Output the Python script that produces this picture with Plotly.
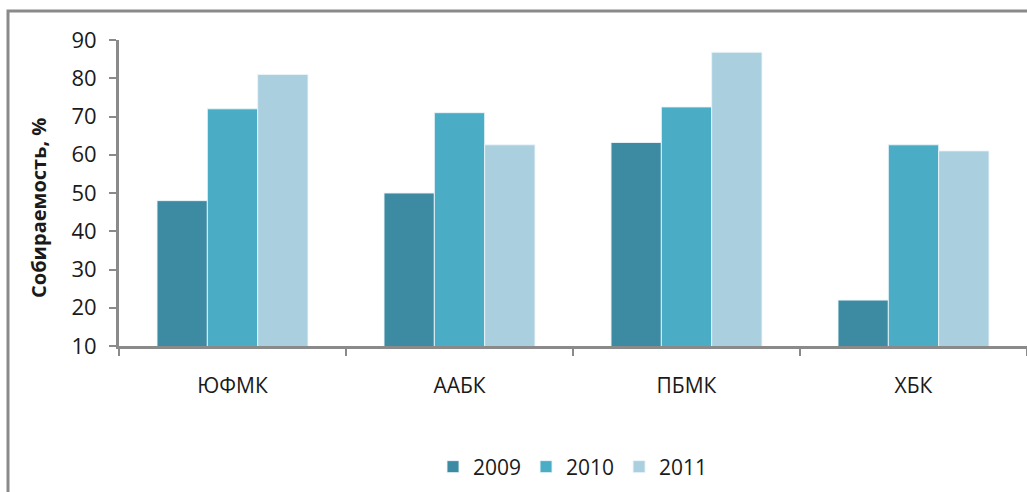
import plotly.graph_objects as go

categories = ["ЮФМК", "ААБК", "ПБМК", "ХБК"]
years = ["2009", "2010", "2011"]
v2009 = [48, 50, 63.2, 22]
v2010 = [72, 71, 72.5, 62.6]
v2011 = [81, 62.6, 86.8, 61]
colors = ["#3C8BA3", "#4BACC6", "#AACFDE"]
y_ticks = [10, 20, 30, 40, 50, 60, 70, 80, 90]

font_main = "Open Sans, Noto Sans, sans-serif"

fig = go.Figure()
for name, vals, col in zip(years, [v2009, v2010, v2011], colors):
    fig.add_trace(go.Bar(
        x=categories, y=vals, name=name,
        marker=dict(color=col, line=dict(color="rgba(235,245,250,0.9)", width=1)),
    ))

W, H = 1027, 492
L, R, T, B = 119, 0, 40, 146
pw = W - L - R
ph = H - T - B

fig.update_layout(
    width=W, height=H,
    margin=dict(l=L, r=R, t=T, b=B, pad=0),
    paper_bgcolor="white", plot_bgcolor="white",
    barmode="group", bargap=0.335, bargroupgap=0,
    font=dict(family=font_main, color="#1a1a1a"),
    legend=dict(
        orientation="h", x=0.5, xanchor="center",
        y=(346 - 467) / ph, yanchor="middle",
        font=dict(size=21, family=font_main),
        itemwidth=30, traceorder="normal",
    ),
    showlegend=True,
)

fig.update_xaxes(
    type="category", range=[-0.5, 3.5],
    showline=True, linecolor="#8A8A8A", linewidth=3,
    ticks="outside", tickson="boundaries", ticklen=7, tickwidth=2, tickcolor="#8A8A8A",
    tickfont=dict(size=21, family=font_main, color="#1a1a1a"),
    ticklabelstandoff=19,
    showgrid=False, zeroline=False,
)
fig.update_yaxes(
    range=[10, 90], tickvals=y_ticks,
    showline=True, linecolor="#8A8A8A", linewidth=3,
    ticks="outside", ticklen=7, tickwidth=2, tickcolor="#8A8A8A",
    tickfont=dict(size=22, family=font_main, color="#1a1a1a"),
    ticklabelstandoff=8,
    showgrid=False, zeroline=False,
)

fig.add_annotation(
    text="<b>Собираемость, %</b>", textangle=-90,
    xref="paper", yref="paper",
    x=(38 - L) / pw, y=(346 - 208) / ph, xanchor="center", yanchor="middle",
    showarrow=False, font=dict(size=20, family=font_main, color="#1a1a1a"),
)

# chart area border
fig.add_shape(
    type="rect", xref="paper", yref="paper",
    x0=(8 - L) / pw, x1=(1040 - L) / pw,
    y0=(346 - 520) / ph, y1=(346 - 11) / ph,
    line=dict(color="#8A8A8A", width=3), fillcolor="rgba(0,0,0,0)", layer="below",
)

fig.write_html("out.html")
